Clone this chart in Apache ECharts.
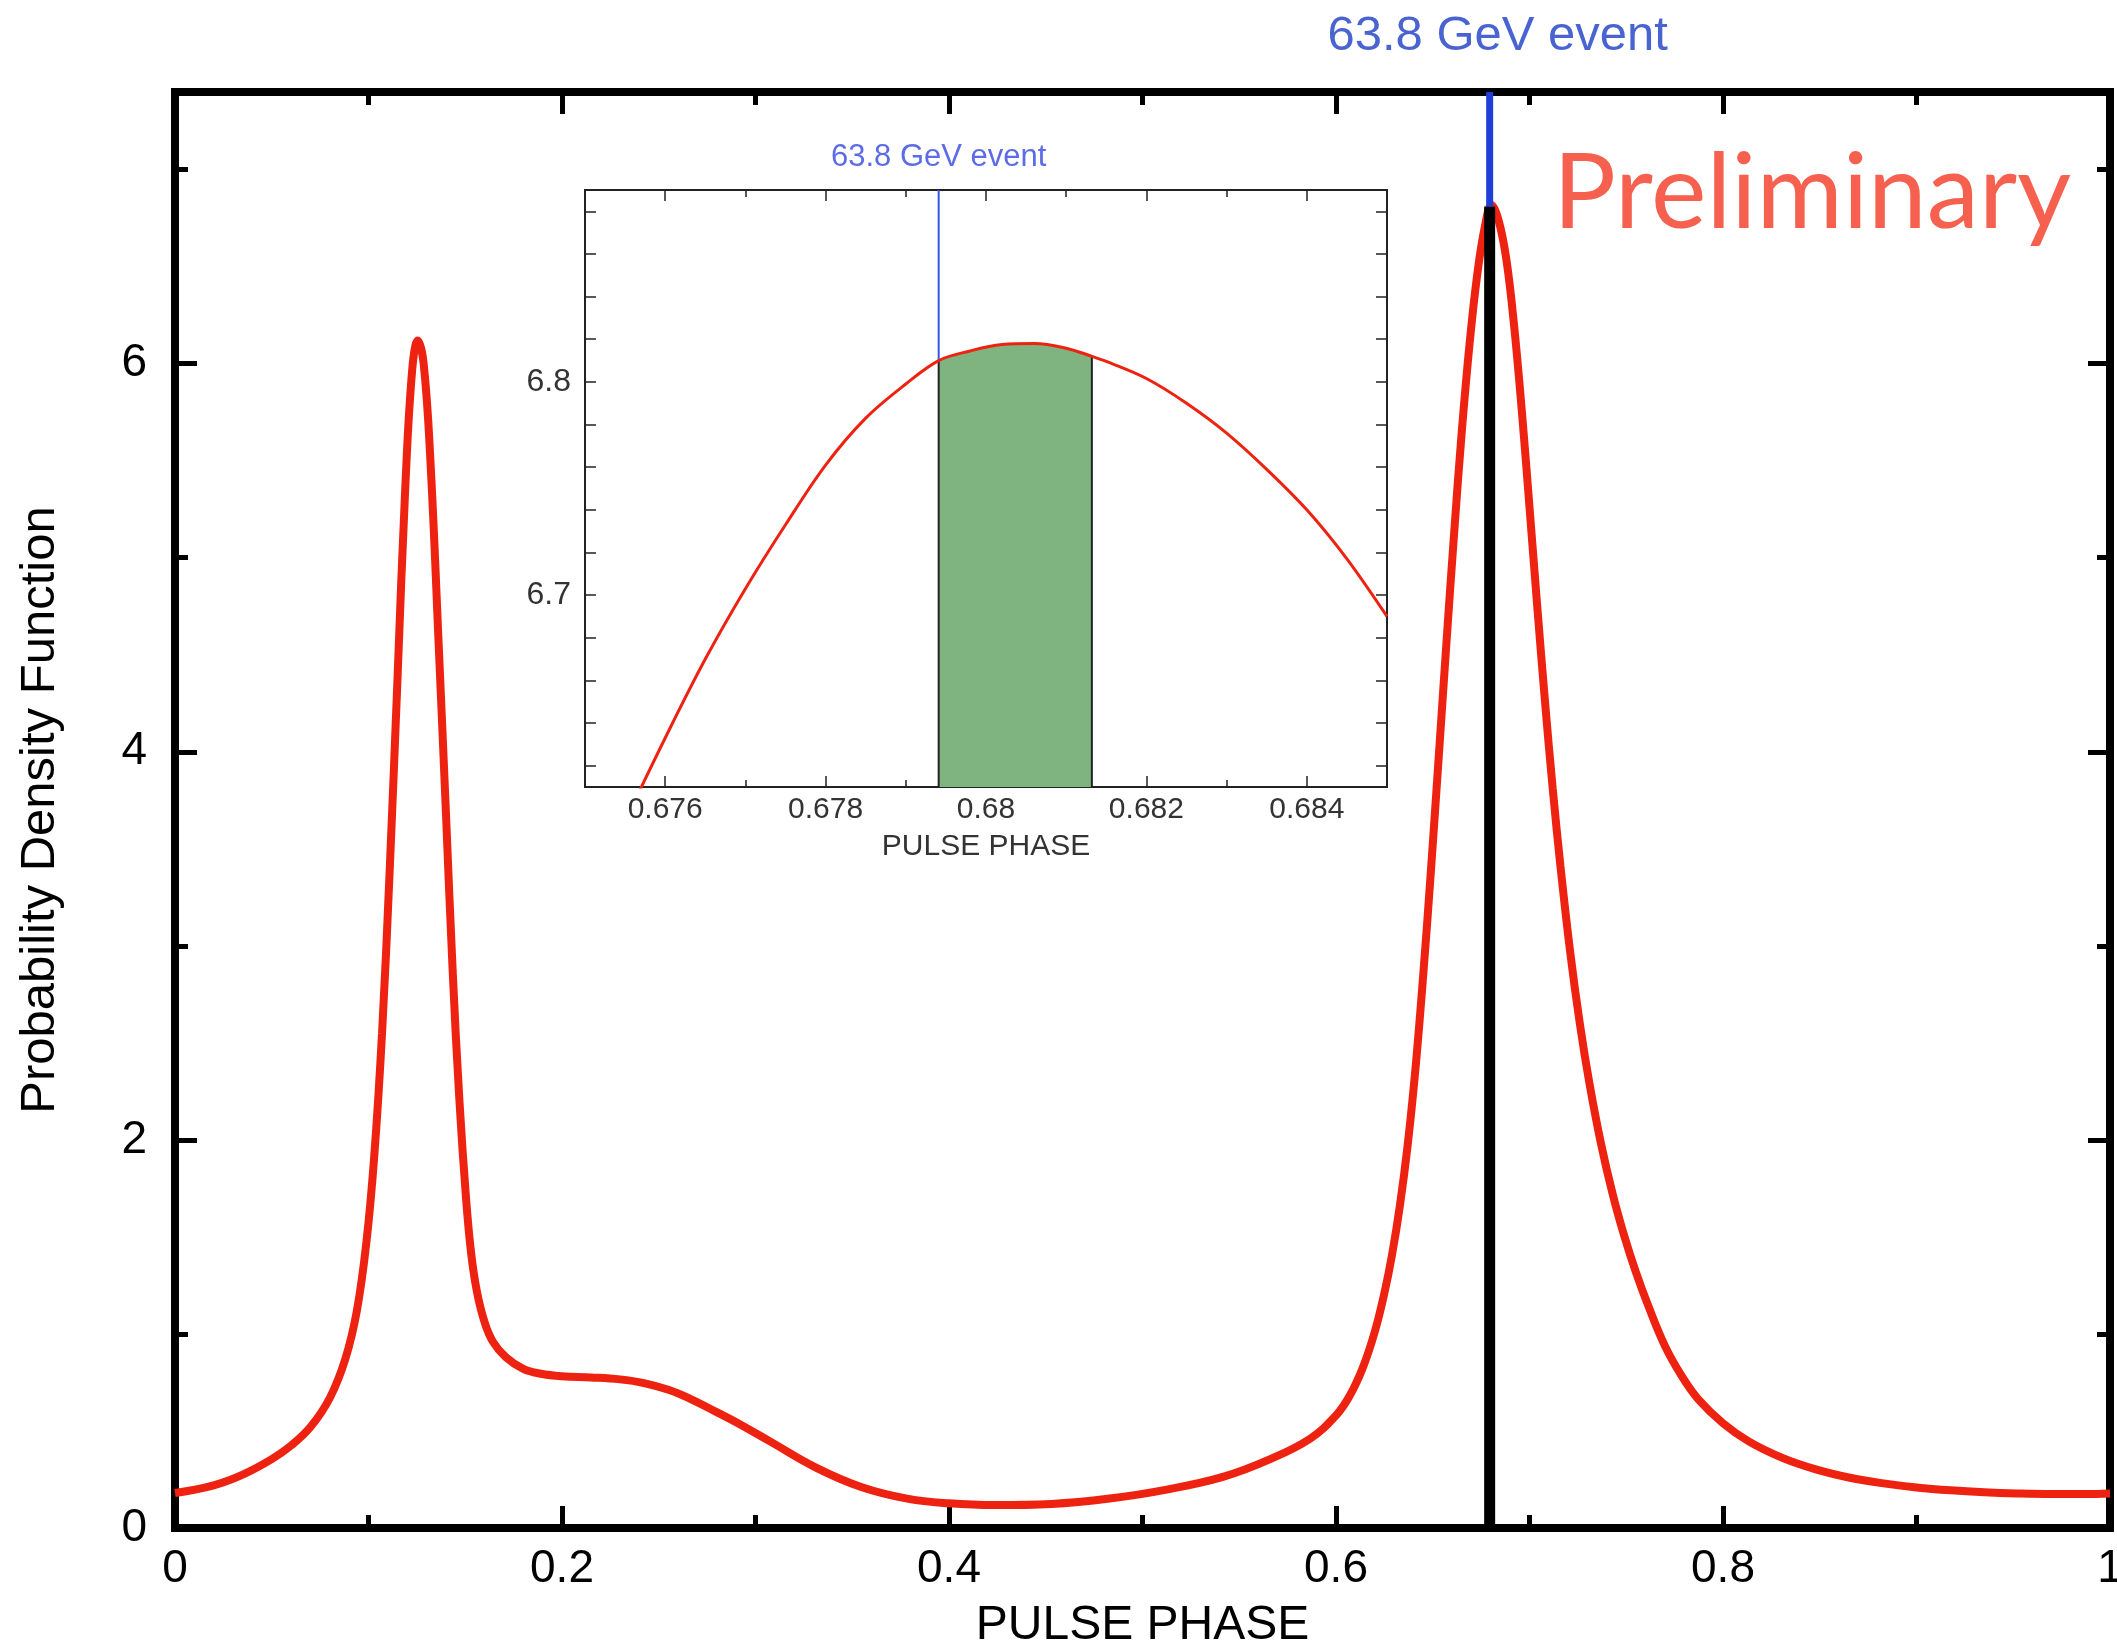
<!DOCTYPE html>
<html><head><meta charset="utf-8">
<script src="https://cdn.jsdelivr.net/npm/echarts@6/dist/echarts.min.js"></script>
<style>html,body{margin:0;padding:0;background:#fff}#c{width:2117px;height:1646px}</style>
</head><body><div id="c"></div>
<script>
// ---- main curve ----
const phase = [0, 0.02, 0.035, 0.05, 0.06, 0.07, 0.08, 0.088, 0.094, 0.099, 0.103, 0.107, 0.111, 0.115, 0.119, 0.1226, 0.1255, 0.1285, 0.132, 0.1365, 0.140, 0.1435, 0.147, 0.1504, 0.153, 0.156, 0.160, 0.1643, 0.171, 0.180, 0.189, 0.200, 0.215, 0.230, 0.2424, 0.255, 0.266, 0.278, 0.290, 0.3077, 0.3315, 0.355, 0.379, 0.400, 0.4234, 0.453, 0.483, 0.5125, 0.542, 0.566, 0.5866, 0.600, 0.607, 0.614, 0.620, 0.625, 0.629, 0.633, 0.637, 0.641, 0.645, 0.649, 0.653, 0.657, 0.661, 0.665, 0.669, 0.673, 0.677, 0.6804, 0.684, 0.688, 0.692, 0.696, 0.700, 0.704, 0.708, 0.712, 0.716, 0.721, 0.726, 0.731, 0.737, 0.743, 0.749, 0.755, 0.7615, 0.7701, 0.7788, 0.7875, 0.800, 0.8135, 0.831, 0.848, 0.8656, 0.883, 0.900, 0.9177, 0.935, 0.952, 0.970, 0.987, 1.0];
const pdf = [0.18, 0.22, 0.275, 0.355, 0.425, 0.52, 0.67, 0.87, 1.12, 1.48, 1.92, 2.55, 3.40, 4.38, 5.36, 5.97, 6.12, 6.00, 5.50, 4.50, 3.69, 2.87, 2.20, 1.70, 1.42, 1.22, 1.06, 0.96, 0.88, 0.82, 0.795, 0.782, 0.776, 0.766, 0.747, 0.712, 0.667, 0.607, 0.545, 0.445, 0.31, 0.21, 0.15, 0.127, 0.118, 0.124, 0.152, 0.198, 0.265, 0.355, 0.46, 0.58, 0.68, 0.83, 1.01, 1.21, 1.41, 1.66, 1.97, 2.36, 2.84, 3.38, 3.96, 4.55, 5.12, 5.65, 6.10, 6.46, 6.71, 6.818, 6.74, 6.54, 6.20, 5.76, 5.26, 4.75, 4.26, 3.81, 3.41, 2.97, 2.60, 2.29, 1.978, 1.72, 1.504, 1.318, 1.142, 0.936, 0.781, 0.66, 0.54, 0.445, 0.36, 0.302, 0.259, 0.23, 0.209, 0.194, 0.184, 0.178, 0.175, 0.175, 0.178];
const xTicks = [0, 0.2, 0.4, 0.6, 0.8, 1];
const xMinorTicks = [0.1, 0.3, 0.5, 0.7, 0.9];
const yTicks = [0, 2, 4, 6];
const yMinorTicks = [1, 3, 5, 7];
const yMax = 7.4;
const eventPhase = 0.67941;
const eventPdf = 6.81;
const eventLabel = '63.8 GeV event';

// ---- inset (zoom on the main peak) ----
const insetPhase = [0.6755, 0.676, 0.6765, 0.677, 0.6775, 0.678, 0.6785, 0.679, 0.67941, 0.6798, 0.6802, 0.6806, 0.681, 0.68132, 0.6815, 0.682, 0.6825, 0.683, 0.6835, 0.684, 0.6845, 0.685];
const insetPdf = [6.594, 6.633, 6.670, 6.703, 6.733, 6.761, 6.783, 6.799, 6.81, 6.8145, 6.8175, 6.818, 6.8158, 6.812, 6.8096, 6.8016, 6.790, 6.776, 6.759, 6.740, 6.717, 6.690];
const bandPhase = [0.67941, 0.6798, 0.6802, 0.6806, 0.681, 0.68132];
const bandPdf = [6.81, 6.8145, 6.8175, 6.818, 6.8158, 6.812];
const insetXRange = [0.675, 0.685];
const insetYRange = [6.61, 6.89];
const insetXTicks = [0.676, 0.678, 0.68, 0.682, 0.684];
const insetXMinor = [0.675, 0.677, 0.679, 0.681, 0.683, 0.685];
const insetYLabels = [6.7, 6.8];
const insetYTicks = [6.62, 6.64, 6.66, 6.68, 6.7, 6.72, 6.74, 6.76, 6.78, 6.8, 6.82, 6.84, 6.86, 6.88];

const FONT = "'Liberation Sans', Arial, Helvetica, sans-serif";
const chart = echarts.init(document.getElementById('c'), null, {renderer: 'canvas'});

function mainX(pos, labels, major) {
  return {
    type: 'value', gridIndex: 0, position: pos, min: 0, max: 1, interval: major ? 0.2 : 0.1,
    axisLine: {show: false, onZero: false}, splitLine: {show: false},
    axisTick: {show: true, inside: true, length: major ? 22 : 13, customValues: major ? xTicks : xMinorTicks,
      lineStyle: {color: '#000', width: 5}},
    axisLabel: {show: labels, customValues: xTicks, fontSize: 46, fontFamily: FONT, color: '#000', margin: 18},
  };
}
function mainY(pos, labels, major) {
  return {
    type: 'value', gridIndex: 0, position: pos, min: 0, max: yMax, interval: major ? 2 : 1,
    axisLine: {show: false, onZero: false}, splitLine: {show: false},
    axisTick: {show: true, inside: true, length: major ? 22 : 13, customValues: major ? yTicks : yMinorTicks,
      lineStyle: {color: '#000', width: 5}},
    axisLabel: {show: labels, customValues: yTicks, fontSize: 46, fontFamily: FONT, color: '#000', margin: 28,
      formatter: v => (yTicks.indexOf(v) >= 0 ? String(v) : '')},
  };
}
function insetX(pos, labels, major) {
  return {
    type: 'value', gridIndex: 1, position: pos, min: insetXRange[0], max: insetXRange[1],
    axisLine: {show: false, onZero: false}, splitLine: {show: false},
    axisTick: {show: true, inside: true, length: major ? 11 : 7, customValues: major ? insetXTicks : insetXMinor,
      lineStyle: {color: '#222', width: 1.5}},
    axisLabel: {show: labels, customValues: insetXTicks, fontSize: 30, fontFamily: FONT, color: '#333', margin: 8},
  };
}
function insetY(pos, labels) {
  return {
    type: 'value', gridIndex: 1, position: pos, min: insetYRange[0], max: insetYRange[1],
    axisLine: {show: false, onZero: false}, splitLine: {show: false},
    axisTick: {show: true, inside: true, length: 11, customValues: insetYTicks, lineStyle: {color: '#222', width: 1.5}},
    axisLabel: {show: labels, customValues: insetYLabels, fontSize: 32, fontFamily: FONT, color: '#333', margin: 14},
  };
}

const xb = mainX('bottom', true, true);
xb.name = 'PULSE PHASE'; xb.nameLocation = 'middle'; xb.nameGap = 74;
xb.nameTextStyle = {fontSize: 48, fontFamily: FONT, color: '#000'};
const yl = mainY('left', true, true);
yl.name = 'Probability Density Function'; yl.nameLocation = 'middle'; yl.nameGap = 110;
yl.nameTextStyle = {fontSize: 49, fontFamily: FONT, color: '#000'};
const ixb = insetX('bottom', true, true);
ixb.name = 'PULSE PHASE'; ixb.nameLocation = 'middle'; ixb.nameGap = 45;
ixb.nameTextStyle = {fontSize: 30, fontFamily: FONT, color: '#333'};

const option = {
  backgroundColor: '#fff',
  animation: false,
  grid: [
    {left: 175, top: 92, width: 1935, height: 1436, show: true, borderColor: '#000', borderWidth: 8,
      backgroundColor: 'transparent', containLabel: false, outerBoundsMode: 'none'},
    {left: 585, top: 190, width: 802, height: 597, show: true, borderColor: '#222', borderWidth: 2,
      backgroundColor: '#fff', containLabel: false, outerBoundsMode: 'none'}
  ],
  xAxis: [xb, mainX('bottom', false, false), mainX('top', false, true), mainX('top', false, false),
          ixb, insetX('bottom', false, false), insetX('top', false, true), insetX('top', false, false)],
  yAxis: [yl, mainY('left', false, false), mainY('right', false, true), mainY('right', false, false),
          insetY('left', true), insetY('right', false)],
  graphic: [{
    type: 'text', left: 1553, top: 142, z: 100,
    style: {text: 'Preliminary', font: "105px Lato, 'Open Sans', sans-serif", fill: '#f6604f'}
  }],
  series: [
    {type: 'line', name: 'PDF', xAxisIndex: 0, yAxisIndex: 0, showSymbol: false, symbol: 'none', smooth: 0.4,
      data: phase.map((p, i) => [p, pdf[i]]), lineStyle: {color: '#ee2211', width: 8}, z: 3},
    {type: 'line', xAxisIndex: 0, yAxisIndex: 0, symbol: 'none',
      data: [[eventPhase, 0], [eventPhase, eventPdf]], lineStyle: {color: '#000', width: 11}, z: 4},
    {type: 'line', xAxisIndex: 0, yAxisIndex: 0, symbol: 'none',
      data: [[eventPhase, eventPdf], [eventPhase, yMax]], lineStyle: {color: '#1f3fd8', width: 7}, z: 4},
    {type: 'scatter', xAxisIndex: 0, yAxisIndex: 0, symbolSize: 2, itemStyle: {color: 'rgba(255,255,255,0)'},
      data: [[eventPhase, yMax]], silent: true, clip: false, z: 10,
      label: {show: true, position: 'top', distance: 30, offset: [8, 0], formatter: eventLabel,
        fontSize: 49, fontFamily: FONT, color: '#1c3cc4'}},
    // inset
    {type: 'line', xAxisIndex: 4, yAxisIndex: 4, symbol: 'none', smooth: 0.35,
      data: bandPhase.map((p, i) => [p, bandPdf[i]]), lineStyle: {width: 0, opacity: 0},
      areaStyle: {color: '#7fb37f', opacity: 1, origin: 'start'}, z: 2},
    {type: 'line', xAxisIndex: 4, yAxisIndex: 4, symbol: 'none',
      data: [[bandPhase[0], insetYRange[0]], [bandPhase[0], bandPdf[0]]], lineStyle: {color: '#222', width: 2}, z: 3},
    {type: 'line', xAxisIndex: 4, yAxisIndex: 4, symbol: 'none',
      data: [[bandPhase[bandPhase.length - 1], insetYRange[0]], [bandPhase[bandPhase.length - 1], bandPdf[bandPdf.length - 1]]],
      lineStyle: {color: '#222', width: 2}, z: 3},
    {type: 'line', xAxisIndex: 4, yAxisIndex: 4, symbol: 'none',
      data: [[eventPhase, eventPdf], [eventPhase, insetYRange[1]]], lineStyle: {color: '#3355ee', width: 2}, z: 3},
    {type: 'line', xAxisIndex: 4, yAxisIndex: 4, symbol: 'none', smooth: 0.35, clip: true,
      data: insetPhase.map((p, i) => [p, insetPdf[i]]), lineStyle: {color: '#ee2211', width: 3}, z: 4},
    {type: 'scatter', xAxisIndex: 4, yAxisIndex: 4, symbolSize: 2, itemStyle: {color: 'rgba(255,255,255,0)'},
      data: [[eventPhase, insetYRange[1]]], silent: true, clip: false, z: 10,
      label: {show: true, position: 'top', distance: 16, formatter: eventLabel,
        fontSize: 31, fontFamily: FONT, color: '#3346e0'}}
  ]
};
chart.setOption(option);
</script></body></html>
